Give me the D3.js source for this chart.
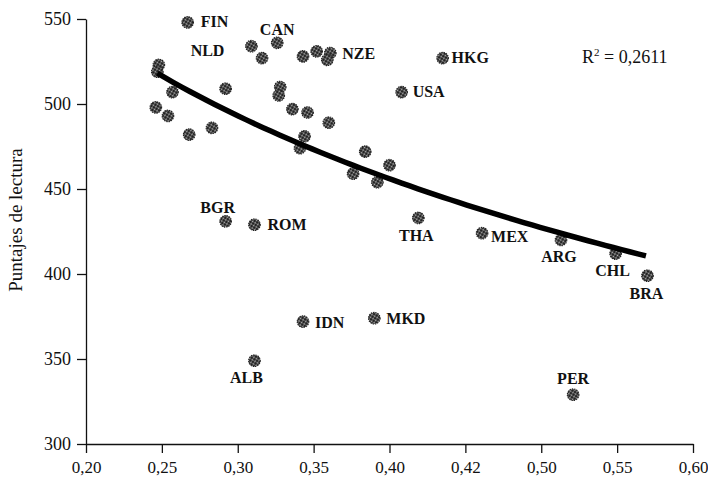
<!DOCTYPE html>
<html>
<head>
<meta charset="utf-8">
<script src="https://cdn.jsdelivr.net/npm/d3@7"></script>
<style>
  body { margin: 0; background: #fff; }
  svg { display: block; }
  text { font-family: 'Liberation Serif', 'Times New Roman', serif; fill: #111; }
</style>
</head>
<body>
<svg id="chart" width="708" height="478"></svg>
<script>
// country codes, null where the point carries no label
const paises = [
  'FIN', 'NLD', 'CAN', null, null, null, 'NZE', null, null, null,
  null, null, null, null, null, null, null, null, null, null,
  null, null, null, null, null, null, null, 'USA', 'HKG', 'BGR',
  'ROM', 'THA', 'IDN', 'MKD', 'ALB', 'MEX', 'ARG', 'CHL', 'BRA', 'PER'
];

// inequality index (x axis)
const desigualdad = [
  0.267, 0.309, 0.326, 0.316, 0.343, 0.352, 0.361, 0.359, 0.248, 0.247,
  0.257, 0.292, 0.328, 0.327, 0.246, 0.254, 0.336, 0.346, 0.360, 0.268,
  0.283, 0.344, 0.341, 0.384, 0.400, 0.376, 0.392, 0.408, 0.435, 0.292,
  0.311, 0.419, 0.343, 0.390, 0.311, 0.461, 0.513, 0.549, 0.570, 0.521
];

// reading scores (y axis)
const lectura = [
  548, 534, 536, 527, 528, 531, 530, 526, 523, 519,
  507, 509, 510, 505, 498, 493, 497, 495, 489, 482,
  486, 481, 474, 472, 464, 459, 454, 507, 527, 431,
  429, 433, 372, 374, 349, 424, 420, 412, 399, 329
];

// logarithmic fit: y = a + b * ln(x)
const tendencia = [338.0, -128.8];
const tendenciaRango = [0.247, 0.569];
const r2 = '0,2611';

const xTicks = [0.20, 0.25, 0.30, 0.35, 0.40, 0.45, 0.50, 0.55, 0.60];
const xTickLabels = ['0,20', '0,25', '0,30', '0,35', '0,40', '0,42', '0,50', '0,55', '0,60'];
const yTicks = [300, 350, 400, 450, 500, 550];

const svg = d3.select('#chart');

const x = d3.scaleLinear().domain([0.2, 0.6]).range([86, 693]);
const y = d3.scaleLinear().domain([300, 550]).range([444, 19]);

// stipple pattern for the dots
const defs = svg.append('defs');
const pat = defs.append('pattern')
  .attr('id', 'stip')
  .attr('patternUnits', 'userSpaceOnUse')
  .attr('width', 3)
  .attr('height', 3)
  .attr('patternTransform', 'rotate(30)');
pat.append('rect').attr('width', 3).attr('height', 3).attr('fill', '#5a5a5a');
pat.append('circle').attr('cx', 1).attr('cy', 1).attr('r', 1).attr('fill', '#111');
pat.append('circle').attr('cx', 2.4).attr('cy', 2.3).attr('r', 0.55).attr('fill', '#ddd');

//
// axes
//
const xAxis = d3.axisBottom(x)
  .tickValues(xTicks)
  .tickSize(9)
  .tickSizeOuter(0)
  .tickFormat((d, i) => xTickLabels[i]);

const gx = svg.append('g')
  .attr('transform', 'translate(0,444)')
  .call(xAxis);
gx.selectAll('text')
  .attr('y', 29)
  .attr('dy', 0)
  .style('font-size', '17px');

const yAxis = d3.axisLeft(y)
  .tickValues(yTicks)
  .tickSize(9)
  .tickPadding(6)
  .tickSizeOuter(0)
  .tickFormat(d3.format('d'));

const gy = svg.append('g')
  .attr('transform', 'translate(86,0)')
  .call(yAxis);
gy.selectAll('text')
  .style('font-size', '18px');

svg.selectAll('.domain, .tick line')
  .attr('stroke', '#111')
  .attr('stroke-width', 1.3);

svg.append('text')
  .attr('transform', 'translate(22,220) rotate(-90)')
  .attr('text-anchor', 'middle')
  .style('font-size', '19px')
  .text('Puntajes de lectura');

//
// points
//
const puntos = desigualdad.map((d, i) => ({ x: d, y: lectura[i], pais: paises[i] }));

svg.append('g')
  .selectAll('circle')
  .data(puntos)
  .join('circle')
  .attr('cx', d => x(d.x))
  .attr('cy', d => y(d.y))
  .attr('r', 5.8)
  .attr('fill', 'url(#stip)')
  .attr('stroke', '#222')
  .attr('stroke-width', 1.1)
  .attr('stroke-dasharray', '1.4 0.9');

//
// trend line
//
const tx = d3.range(0, 61).map(i => tendenciaRango[0] + (tendenciaRango[1] - tendenciaRango[0]) * i / 60);
const line = d3.line()
  .x(d => x(d))
  .y(d => y(tendencia[0] + tendencia[1] * Math.log(d)));

svg.append('path')
  .datum(tx)
  .attr('d', line)
  .attr('fill', 'none')
  .attr('stroke', '#000')
  .attr('stroke-width', 5.5);

//
// country labels, placed relative to their dot
//
const colocar = {
  FIN: [13, 5, 'start'],
  CAN: [0, -8, 'middle'],
  NLD: [-27, 10, 'end'],
  NZE: [12, 6, 'start'],
  HKG: [9, 5, 'start'],
  USA: [11, 5, 'start'],
  BGR: [-8, -8, 'middle'],
  ROM: [13, 5, 'start'],
  THA: [-2, 23, 'middle'],
  IDN: [12, 6, 'start'],
  MKD: [12, 6, 'start'],
  ALB: [-8, 22, 'middle'],
  MEX: [9, 9, 'start'],
  ARG: [-2, 22, 'middle'],
  CHL: [-3, 22, 'middle'],
  BRA: [-1, 23, 'middle'],
  PER: [0, -11, 'middle']
};

svg.append('g')
  .selectAll('text')
  .data(puntos.filter(d => d.pais))
  .join('text')
  .attr('x', d => x(d.x) + colocar[d.pais][0])
  .attr('y', d => y(d.y) + colocar[d.pais][1])
  .attr('text-anchor', d => colocar[d.pais][2])
  .style('font-size', '16px')
  .style('font-weight', 'bold')
  .text(d => d.pais);

// R squared note
const nota = svg.append('text')
  .attr('x', 582)
  .attr('y', 63)
  .style('font-size', '18px');
nota.append('tspan').text('R');
nota.append('tspan').attr('dy', -7).style('font-size', '11px').text('2');
nota.append('tspan').attr('dy', 7).text(' = ' + r2);
</script>
</body>
</html>
